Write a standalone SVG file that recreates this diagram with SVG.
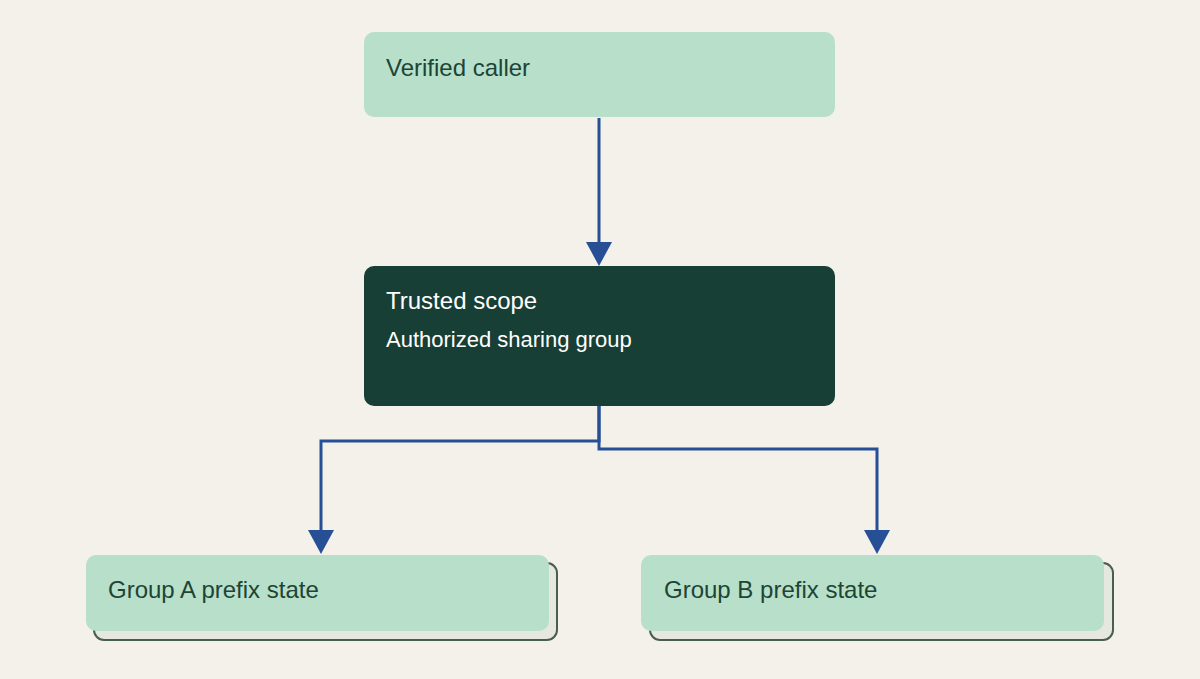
<svg xmlns="http://www.w3.org/2000/svg" width="1200" height="679" viewBox="0 0 1200 679">
<style>
.t{font-family:"Liberation Sans",Arial,sans-serif;font-size:24px;fill:#1c4536}
.w{font-family:"Liberation Sans",Arial,sans-serif;fill:#ffffff}
.c{fill:none;stroke:#264f96;stroke-width:3}
.n{fill:#b8dfc9}
.b{fill:#e6e8df;stroke:#4a5e50;stroke-width:2}
</style>
<defs><marker id="a" markerWidth="26" markerHeight="26" refX="13" refY="24" orient="auto-start-reverse" markerUnits="userSpaceOnUse" viewBox="0 0 26 26"><path d="M0,0 L26,0 L13,24 Z" fill="#264f96" transform="rotate(0)"/></marker></defs>
<rect width="1200" height="679" fill="#f4f1ea"/>
<g id="connectors">
<path class="c" d="M599,118 V242"/><path d="M586,242 H612 L599,266 Z" fill="#264f96"/>
<path class="c" d="M599,406 V441 H321 V530"/><path d="M308,530 H334 L321,554 Z" fill="#264f96"/>
<path class="c" d="M599,406 V449 H877 V530"/><path d="M864,530 H890 L877,554 Z" fill="#264f96"/>
</g>
<g id="verified"><rect class="n" x="364" y="32" width="471" height="85" rx="10"/><text class="t" x="386" y="76">Verified caller</text></g>
<g id="trusted"><rect x="364" y="266" width="471" height="140" rx="10" fill="#173f36"/><text class="w" x="386" y="309" font-size="24">Trusted scope</text><text class="w" x="386" y="347" font-size="22">Authorized sharing group</text></g>
<g id="groupA"><rect class="b" x="94" y="563" width="463" height="77" rx="10"/><rect class="n" x="86" y="555" width="463" height="76" rx="10"/><text class="t" x="108" y="598">Group A prefix state</text></g>
<g id="groupB"><rect class="b" x="650" y="563" width="463" height="77" rx="10"/><rect class="n" x="641" y="555" width="463" height="76" rx="10"/><text class="t" x="664" y="598">Group B prefix state</text></g>
</svg>
